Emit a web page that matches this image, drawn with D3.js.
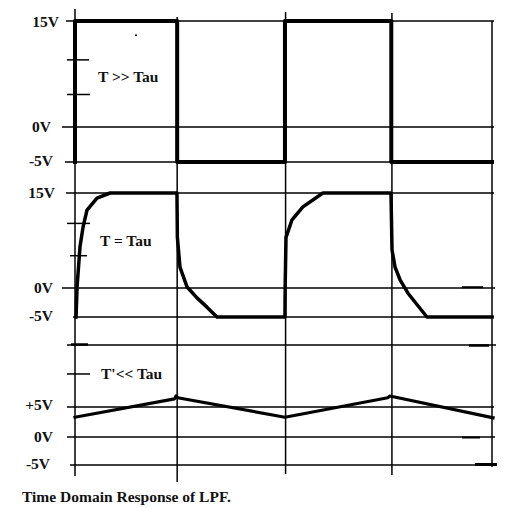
<!DOCTYPE html>
<html>
<head>
<meta charset="utf-8">
<script src="https://cdn.jsdelivr.net/npm/d3@7/dist/d3.min.js"></script>
<style>
  html, body { margin: 0; padding: 0; background: #fff; }
  svg { display: block; }
  text { font-family: "Liberation Serif", "Times New Roman", serif; font-weight: bold; fill: #111; }
</style>
</head>
<body>
<svg id="chart" width="521" height="508"></svg>
<script>
// ---------------- DATA ----------------
// time axis: one unit = half period T
const gridTimes = [0, 0.98, 2.02, 3.04, 4];

// Panel 1: T >> Tau (square wave, volts)
const sqTimes  = [0, 0, 0.98, 0.98, 2.014, 2.014, 3.034, 3.034, 4];
const sqVolts  = [-5, 15, 15, -5, -5, 15, 15, -5, -5];

// Panel 2: T = Tau (exponential charge / discharge)
const expTimes = [0.01, 0.02, 0.048, 0.077, 0.115, 0.211, 0.336, 0.978, 0.982, 1.007, 1.074, 1.17, 1.266, 1.362,
                  2.014, 2.016, 2.024, 2.08, 2.186, 2.378, 3.031, 3.041, 3.07, 3.118, 3.194, 3.376, 4.0];
const expVolts = [-5, 0.2, 6.5, 9.6, 12.3, 14.2, 15, 15, 8.0, 3.3, 0.2, -1.7, -3.3, -5,
                  -5, 0.2, 8.0, 10.7, 12.8, 15, 15, 6.0, 3.3, 1.3, -0.9, -5, -5];

// Panel 3: T << Tau (triangle)
const triTimes = [0, 0.955, 0.969, 0.985, 2.014, 3.0, 3.02, 4.01];
const triVolts = [3.3, 6.4, 6.9, 6.6, 3.3, 6.6, 6.9, 3.2];

// grid levels (volts) and labels per panel
const p1Levels = [15, 0, -5];
const p1Labels = ["15V", "0V", "-5V"];
const p1Ticks  = [9.5, 4.6];
const p2Levels = [15, 0, -5];
const p2Labels = ["15V", "0V", "-5V"];
const p2Ticks  = [10.2, 5.1];
const p3Levels = [15.7, 5, 0, -5];
const p3Labels = ["", "+5V", "0V", "-5V"];
const p3Ticks  = [10.7];

const panelTitles = ["T >> Tau", "T = Tau", "T'<< Tau"];
const caption = "Time Domain Response of LPF.";

// ---------------- LAYOUT ----------------
const svg = d3.select("#chart");
const x = d3.scaleLinear().domain([0, 4]).range([75, 492]);

const y1 = d3.scaleLinear().domain([-5, 0, 15]).range([162, 127, 21]);
const y2 = d3.scaleLinear().domain([-5, 0, 15]).range([317, 288, 193]);
const y3 = d3.scaleLinear().domain([-5, 0, 5, 15.7]).range([465, 437, 407, 345]);

const vTop = [9, 17, 12, 13, 21];
const vBot = [476, 482, 474, 475, 467];

const g = svg.append("g");

// vertical grid lines
g.selectAll("line.v").data(gridTimes).join("line")
  .attr("x1", d => x(d)).attr("x2", d => x(d))
  .attr("y1", (d, i) => vTop[i]).attr("y2", (d, i) => vBot[i])
  .attr("stroke", "#000").attr("stroke-width", 1.5);

function hGrid(levels, ys, starts, ends) {
  g.append("g").selectAll("line").data(levels).join("line")
    .attr("x1", (d, i) => starts[i]).attr("x2", (d, i) => ends[i])
    .attr("y1", d => ys(d)).attr("y2", d => ys(d))
    .attr("stroke", "#000").attr("stroke-width", 1.5);
}
hGrid(p1Levels, y1, [66, 62, 65], [494, 494, 494]);
hGrid(p2Levels, y2, [66, 62, 73], [494, 495, 494]);
hGrid(p3Levels, y3, [67, 67, 67, 70], [496, 494, 495, 494]);

function ticks(vals, ys, x1s, x2s) {
  g.append("g").selectAll("line").data(vals).join("line")
    .attr("x1", (d, i) => x1s[i]).attr("x2", (d, i) => x2s[i])
    .attr("y1", d => ys(d)).attr("y2", d => ys(d))
    .attr("stroke", "#000").attr("stroke-width", 1.5);
}
ticks(p1Ticks, y1, [67, 67], [89, 90]);
ticks(p2Ticks, y2, [67, 70], [90, 87]);
ticks(p3Ticks, y3, [67], [90]);

// stray short dashes (hand drawing leftovers)
const dashes = [
  {x1: 71, x2: 88, y: y3(15.7) - 0.5, w: 2.5},
  {x1: 469, x2: 489, y: y3(15.7) + 0.5, w: 2.5},
  {x1: 462, x2: 483, y: y2(0) - 0.8, w: 2},
  {x1: 462, x2: 480, y: y3(0) + 0.5, w: 2},
  {x1: 475, x2: 497, y: y3(-5) - 0.5, w: 3}
];
g.append("g").selectAll("line").data(dashes).join("line")
  .attr("x1", d => d.x1).attr("x2", d => d.x2)
  .attr("y1", d => d.y).attr("y2", d => d.y)
  .attr("stroke", "#000").attr("stroke-width", d => d.w);

g.append("rect").attr("x", 135).attr("y", 34.5).attr("width", 2).attr("height", 1.5).attr("fill", "#000");

// signals
function trace(ts, vs, ys, w) {
  const pts = ts.map((t, i) => [x(t), ys(vs[i])]);
  g.append("path").attr("d", d3.line()(pts))
    .attr("fill", "none").attr("stroke", "#000")
    .attr("stroke-width", w).attr("stroke-linejoin", "round").attr("stroke-linecap", "square");
}
trace(sqTimes, sqVolts, y1, 4);
trace(expTimes, expVolts, y2, 3.5);
trace(triTimes, triVolts, y3, 3.2);

// axis labels
function labels(lbls, levels, ys, ends, bases) {
  g.append("g").selectAll("text").data(lbls).join("text")
    .attr("x", (d, i) => ends[i]).attr("y", (d, i) => bases[i])
    .attr("text-anchor", "end").attr("font-size", 15.5)
    .text(d => d);
}
labels(p1Labels, p1Levels, y1, [59, 51, 53], [27, 132, 166]);
labels(p2Labels, p2Levels, y2, [55, 53, 53], [198, 293, 321]);
labels(p3Labels, p3Levels, y3, [0, 53, 53, 50], [0, 410, 442, 469]);

// panel titles
const titlePos = [[98, 82], [100, 246], [101, 379]];
g.append("g").selectAll("text").data(panelTitles).join("text")
  .attr("x", (d, i) => titlePos[i][0]).attr("y", (d, i) => titlePos[i][1])
  .attr("font-size", 15.5)
  .text(d => d);

// caption
g.append("text").attr("x", 22).attr("y", 502).attr("font-size", 15.5).text(caption);
</script>
</body>
</html>
